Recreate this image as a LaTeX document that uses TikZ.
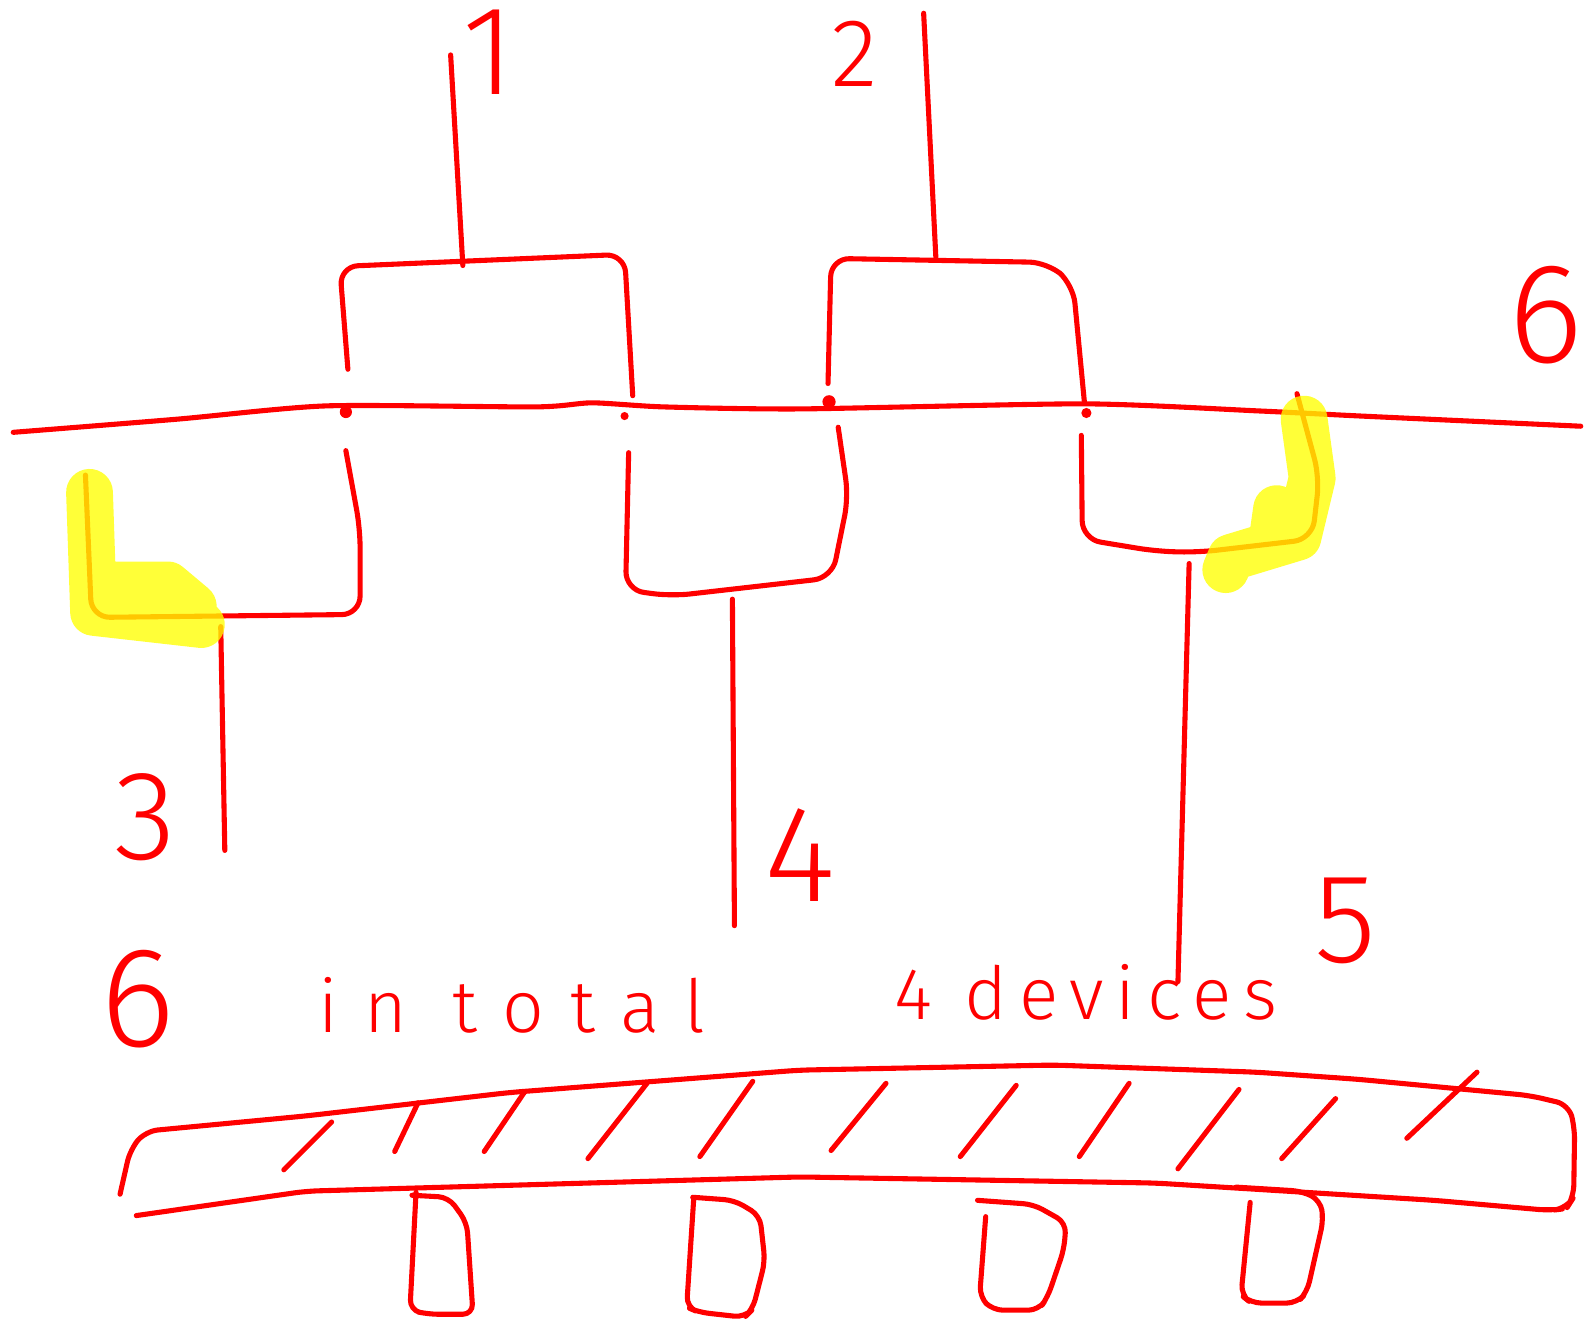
\documentclass[tikz,border=0pt]{standalone}
\usepackage{fontspec}
\usepackage{xcolor}
\usepackage{tikz}
\usetikzlibrary{positioning}
\newfontfamily\handfont{Fira Sans}[UprightFont=* Light]
\definecolor{PenRed}{HTML}{FF0000}
\definecolor{MarkerYellow}{HTML}{FFFF00}

\begin{document}
\begin{tikzpicture}[x=1pt,y=-1pt]
  \path[use as bounding box] (0,0) rectangle (1568,1304);

  \tikzset{
    skPen/.style={
      draw=PenRed,
      line width=5pt,
      line cap=round,
      line join=round
    },
    skBend/.style={
      skPen,
      rounded corners=18pt
    },
    skMarker/.style={
      draw=MarkerYellow,
      draw opacity=.78,
      line width=46pt,
      line cap=round,
      line join=round
    },
    skDigit/.style={
      text=PenRed,
      inner sep=0pt,
      font=\handfont\fontsize{125}{125}\selectfont
    },
    skWord/.style={
      text=PenRed,
      inner sep=0pt,
      anchor=base west,
      font=\handfont\fontsize{72}{72}\selectfont
    },
    skTap/.style={fill=PenRed}
  }

  % the bus and its four taps
  \coordinate (tapA) at (340,405);
  \coordinate (tapB) at (614,409);
  \coordinate (tapC) at (815,395);
  \coordinate (tapD) at (1068,406);
  \draw[skPen] plot[smooth,tension=.4] coordinates {(13,425) (175,412) (321,399)
    (527,400) (582,396) (652,400) (786,402) (1066,397) (1238,404) (1338,409) (1554,419)};
  \fill[skTap] (tapA) circle[radius=6pt];
  \fill[skTap] (tapB) circle[radius=4pt];
  \fill[skTap] (tapC) circle[radius=6.5pt];
  \fill[skTap] (tapD) circle[radius=5pt];

  % brackets above the bus
  \coordinate (feedOne) at (455,261);
  \coordinate (feedTwo) at (920,253);
  \draw[skBend] (342,363) -- (334,262) -- (614,250) -- (622,389);
  \draw[skPen] (feedOne) -- (443,54);
  \draw[skBend] (814,377) -- (817,254) -- (1030,258) -- (1055,280) -- (1066,395);
  \draw[skPen] (feedTwo) -- (908,13);

  % brackets below the bus
  \coordinate (dropThree) at (217,616);
  \coordinate (dropFour) at (720,589);
  \coordinate (dropFive) at (1169,554);
  \draw[skBend] (340,443) -- (354,520) -- (354,604) -- (90,607) -- (84,467);
  \draw[skPen] (dropThree) -- (221,836);
  \draw[skBend] (618,445) -- (615,580) -- (660,586) -- (818,568) -- (834,489) -- (824,420);
  \draw[skPen] (dropFour) -- (722,910);
  \draw[skBend] (1063,428) -- (1064,530) -- (1137,542) -- (1178,543) -- (1290,530)
    -- (1297,469) -- (1275,387);
  \draw[skPen] (dropFive) -- (1158,965);

  % marker strokes
  \draw[skMarker] (88,484) -- (92,602) -- (198,614) (112,575) -- (165,575) -- (190,596);
  \draw[skMarker] (1282,412) -- (1290,470) -- (1276,528) -- (1210,548) -- (1205,560)
    (1255,500) -- (1250,535);

  % labels
  \node[skDigit] (lblOne) at (480,51) {1};
  \node[skDigit,font=\handfont\fontsize{95}{95}\selectfont] (lblTwo) at (840,53) {2};
  \node[skDigit] (lblThree) at (143,803) {3};
  \node[skDigit,font=\handfont\fontsize{135}{135}\selectfont] (lblFour) at (787,841) {4};
  \node[skDigit] (lblFive) at (1323,905) {5};
  \node[skDigit,font=\handfont\fontsize{140}{140}\selectfont] (lblSixR) at (1520,310) {6};
  \node[skDigit,font=\handfont\fontsize{140}{140}\selectfont] (lblSixL) at (135,982) {6};
  \node[skWord,font=\handfont\fontsize{72}{72}\selectfont\addfontfeatures{LetterSpace=35}]
    (wordTotal) at (313,1015) {in total};
  \node[skWord,font=\handfont\fontsize{72}{72}\selectfont\addfontfeatures{LetterSpace=16}]
    (wordDevices) at (879,1002) {4 devices};

  % the rail with its hatching
  \draw[skPen,rounded corners=12pt] (118,1174) -- (128,1130) -- (143,1112) -- (301,1097)
    -- (501,1074) -- (786,1052) -- (1036,1047) -- (1235,1054) -- (1335,1061)
    -- (1504,1077) -- (1542,1086) -- (1548,1108) -- (1547,1177) -- (1540,1188)
    -- (1524,1190) -- (1410,1180) -- (1136,1163) -- (786,1157) -- (301,1171) -- (134,1195);
  \foreach \xa/\ya/\xb/\yb in {326/1103/279/1150, 411/1084/388/1132, 516/1073/476/1132,
      636/1065/578/1139, 740/1063/688/1137, 871/1065/817/1131, 999/1067/944/1137,
      1110/1065/1061/1137, 1218/1071/1158/1149, 1313/1080/1260/1139, 1452/1054/1383/1119}
    \draw[skPen] (\xa,\ya) -- (\xb,\yb);

  % the four devices
  \draw[skPen,rounded corners=10pt] (405,1175) -- (441,1177) -- (459,1202) -- (465,1292)
    -- (421,1292) -- (403,1288) -- (409,1172);
  \draw[skPen,rounded corners=10pt] (681,1177) -- (722,1180) -- (747,1195) -- (752,1240)
    -- (740,1287) -- (732,1295) -- (687,1290) -- (675,1285) -- (682,1178);
  \draw[skPen,rounded corners=10pt] (961,1180) -- (1016,1184) -- (1048,1202) -- (1046,1228)
    -- (1030,1275) -- (1021,1288) -- (976,1288) -- (963,1275) -- (969,1196);
  \draw[skPen,rounded corners=10pt] (1215,1167) -- (1280,1171) -- (1298,1180) -- (1301,1199)
    -- (1285,1270) -- (1275,1281) -- (1230,1281) -- (1220,1273) -- (1229,1182);
\end{tikzpicture}
\end{document}
